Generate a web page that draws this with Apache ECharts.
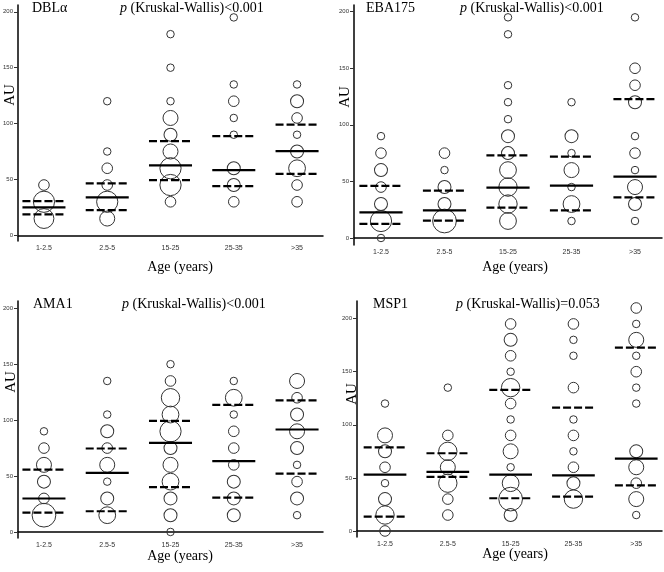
<!DOCTYPE html>
<html><head><meta charset="utf-8">
<script src="https://cdn.jsdelivr.net/npm/echarts@6/dist/echarts.min.js"></script>
<style>html,body{margin:0;padding:0;background:#fff}#c{width:664px;height:572px}</style>
</head><body><div id="c"></div>
<script>
const categories = ['1-2.5', '2.5-5', '15-25', '25-35', '>35'];
const yTicks = [0, 50, 100, 150, 200];
const antigens = ['DBLα', 'EBA175', 'AMA1', 'MSP1'];
const pTexts = ['<0.001', '<0.001', '<0.001', '=0.053'];

// DBLα
const dblaAU = [[45,30,15],[120,75,60,45,30,15],[180,150,120,105,90,75,60,45,30],[195,135,120,105,90,60,45,30],[135,120,105,90,75,60,45,30]];
const dblaN  = [[2,8,7],[1,1,2,2,8,4],[1,1,1,4,3,4,8,8,2],[1,1,2,1,1,3,3,2],[1,3,2,1,3,5,2,2]];
const dblaQ3 = [30.6, 46.4, 84.2, 88.7, 99.1];
const dblaMed = [25, 33.9, 62.5, 58.3, 75.3];
const dblaQ1 = [18.7, 22.6, 49.4, 44, 55];

// EBA175
const ebaAU = [[90,75,60,45,30,15,0],[75,60,45,30,15],[195,180,135,120,105,90,75,60,45,30,15],[120,90,75,60,45,30,15],[195,150,135,120,90,75,60,45,30,15]];
const ebaN  = [[1,2,3,2,3,8,1],[2,1,3,3,10],[1,1,1,1,1,3,3,5,6,6,5],[1,3,1,4,1,5,1],[1,2,2,3,1,2,1,4,3,1]];
const ebaQ3 = [46, 41.8, 73, 71.9, 122.8];
const ebaMed = [22.7, 24.4, 44.5, 46.2, 54.2];
const ebaQ1 = [12.4, 15.3, 26.8, 24.4, 35.9];

// AMA1
const amaAU = [[90,75,60,45,30,15],[135,105,90,75,60,45,30,15],[150,135,120,105,90,75,60,45,30,15,0],[135,120,105,90,75,60,45,30,15],[135,120,105,90,75,60,45,30,15]];
const amaN  = [[1,2,4,3,2,10],[1,1,3,2,4,1,3,5],[1,2,6,5,8,3,4,5,3,3,1],[1,5,1,2,2,2,3,3,3],[4,2,3,4,3,1,2,3,1]];
const amaQ3 = [55.8, 74.6, 99.4, 113.7, 117.6];
const amaMed = [29.9, 52.8, 79.7, 63.3, 91.6];
const amaQ1 = [17.3, 18.5, 40, 30.7, 52.2];

// MSP1
const mspAU = [[120,90,75,60,45,30,15,0],[135,90,75,60,45,30,15],[195,180,165,150,135,120,105,90,75,60,45,30,15],[195,180,165,135,105,90,75,60,45,30],[210,195,180,165,150,135,120,75,60,45,30,15]];
const mspN  = [[1,4,3,2,1,3,6,2],[1,2,6,4,6,2,2],[2,3,2,1,6,2,1,2,4,1,5,10,3],[2,1,1,2,1,2,1,2,3,6],[2,1,4,1,2,1,1,3,4,2,4,1]];
const mspQ3 = [78.8, 73.2, 132.8, 116.2, 172.7];
const mspMed = [53.1, 55.6, 53.1, 52.4, 68.1];
const mspQ1 = [13.5, 50.9, 30.8, 32.3, 43];

const panelData = [
  {au: dblaAU, n: dblaN, q3: dblaQ3, med: dblaMed, q1: dblaQ1},
  {au: ebaAU, n: ebaN, q3: ebaQ3, med: ebaMed, q1: ebaQ1},
  {au: amaAU, n: amaN, q3: amaQ3, med: amaMed, q1: amaQ1},
  {au: mspAU, n: mspN, q3: mspQ3, med: mspMed, q1: mspQ1}
];

// layout (positions / styles)
const layouts = [
  {left:17, top:5, width:306, height:236, xMin:0.59, xMax:5.41, yMin:-5.1, yMax:206.1,
   nameX:32, nameY:8, pX:120, auX:10, auY:95, ageX:180, ageY:267},
  {left:354, top:5, width:308, height:240, xMin:0.575, xMax:5.425, yMin:-6.2, yMax:205.9,
   nameX:366, nameY:8, pX:460, auX:345, auY:97, ageX:515, ageY:267},
  {left:16, top:301, width:307, height:237, xMin:0.59, xMax:5.41, yMin:-5.4, yMax:206.5,
   nameX:33, nameY:304, pX:122, auX:11, auY:382, ageX:180, ageY:556},
  {left:357, top:301, width:305, height:236, xMin:0.554, xMax:5.41, yMin:-5.7, yMax:216.6,
   nameX:373, nameY:304, pX:456, auX:352, auY:394, ageX:515, ageY:554}
];

const halfW = 0.34;
const serif = '"Liberation Serif","DejaVu Serif",serif';

function lineSeries(idx, values, dashed) {
  return {
    type: 'custom', xAxisIndex: idx, yAxisIndex: idx, z: 5,
    data: values.map((v, i) => [i + 1, v]),
    renderItem: function (params, api) {
      const x = api.value(0), y = api.value(1);
      const p1 = api.coord([x - halfW, y]);
      const p2 = api.coord([x + halfW, y]);
      return {type: 'line', shape: {x1: p1[0], y1: p1[1], x2: p2[0], y2: p2[1]},
        style: {stroke: '#000', lineWidth: 2.2, lineDash: dashed ? [8, 3] : null}};
    }
  };
}

const grid = [], xAxis = [], yAxis = [], series = [], graphic = [];
layouts.forEach((L, idx) => {
  const D = panelData[idx];
  grid.push({left: L.left, top: L.top, width: L.width, height: L.height});
  xAxis.push({type: 'value', gridIndex: idx, min: L.xMin, max: L.xMax,
    axisLine: {lineStyle: {color: '#000', width: 1.5}},
    axisTick: {show: false}, splitLine: {show: false},
    axisLabel: {customValues: [1,2,3,4,5], formatter: v => categories[Math.round(v) - 1],
      fontSize: 7, color: '#333', margin: 4, fontFamily: 'Liberation Sans, Arial, sans-serif'}});
  yAxis.push({type: 'value', gridIndex: idx, min: L.yMin, max: L.yMax,
    axisLine: {show: true, lineStyle: {color: '#000', width: 1.5}},
    axisTick: {show: true, length: 4, customValues: yTicks, lineStyle: {color: '#333'}},
    splitLine: {show: false},
    axisLabel: {customValues: yTicks, fontSize: 6, color: '#333', margin: 5,
      fontFamily: 'Liberation Sans, Arial, sans-serif'}});
  const pts = [];
  D.au.forEach((arr, i) => arr.forEach((v, j) => pts.push([i + 1, v, D.n[i][j]])));
  series.push({type: 'scatter', xAxisIndex: idx, yAxisIndex: idx, z: 3,
    data: pts, symbol: 'circle', symbolSize: v => 7.5 * Math.sqrt(v[2]),
    itemStyle: {color: 'rgba(0,0,0,0)', borderColor: '#333', borderWidth: 1, opacity: 1},
    emphasis: {disabled: true}});
  series.push(lineSeries(idx, D.q3, true));
  series.push(lineSeries(idx, D.med, false));
  series.push(lineSeries(idx, D.q1, true));

  graphic.push({type: 'text', x: L.nameX, y: L.nameY,
    style: {text: antigens[idx], font: '14px ' + serif, fill: '#000', textVerticalAlign: 'middle'}});
  graphic.push({type: 'text', x: L.pX, y: L.nameY,
    style: {text: '{i|p} (Kruskal-Wallis)' + pTexts[idx], font: '14px ' + serif, fill: '#000',
      textVerticalAlign: 'middle',
      rich: {i: {fontStyle: 'italic', fontSize: 14, fontFamily: serif}}}});
  graphic.push({type: 'text', x: L.auX, y: L.auY, rotation: Math.PI / 2,
    style: {text: 'AU', font: '15px ' + serif, fill: '#000', textAlign: 'center', textVerticalAlign: 'middle'}});
  graphic.push({type: 'text', x: L.ageX, y: L.ageY,
    style: {text: 'Age (years)', font: '14px ' + serif, fill: '#000', textAlign: 'center', textVerticalAlign: 'middle'}});
});

const chart = echarts.init(document.getElementById('c'), null, {renderer: 'canvas'});
chart.setOption({animation: false, backgroundColor: '#fff', grid, xAxis, yAxis, series, graphic});
</script>
</body></html>
